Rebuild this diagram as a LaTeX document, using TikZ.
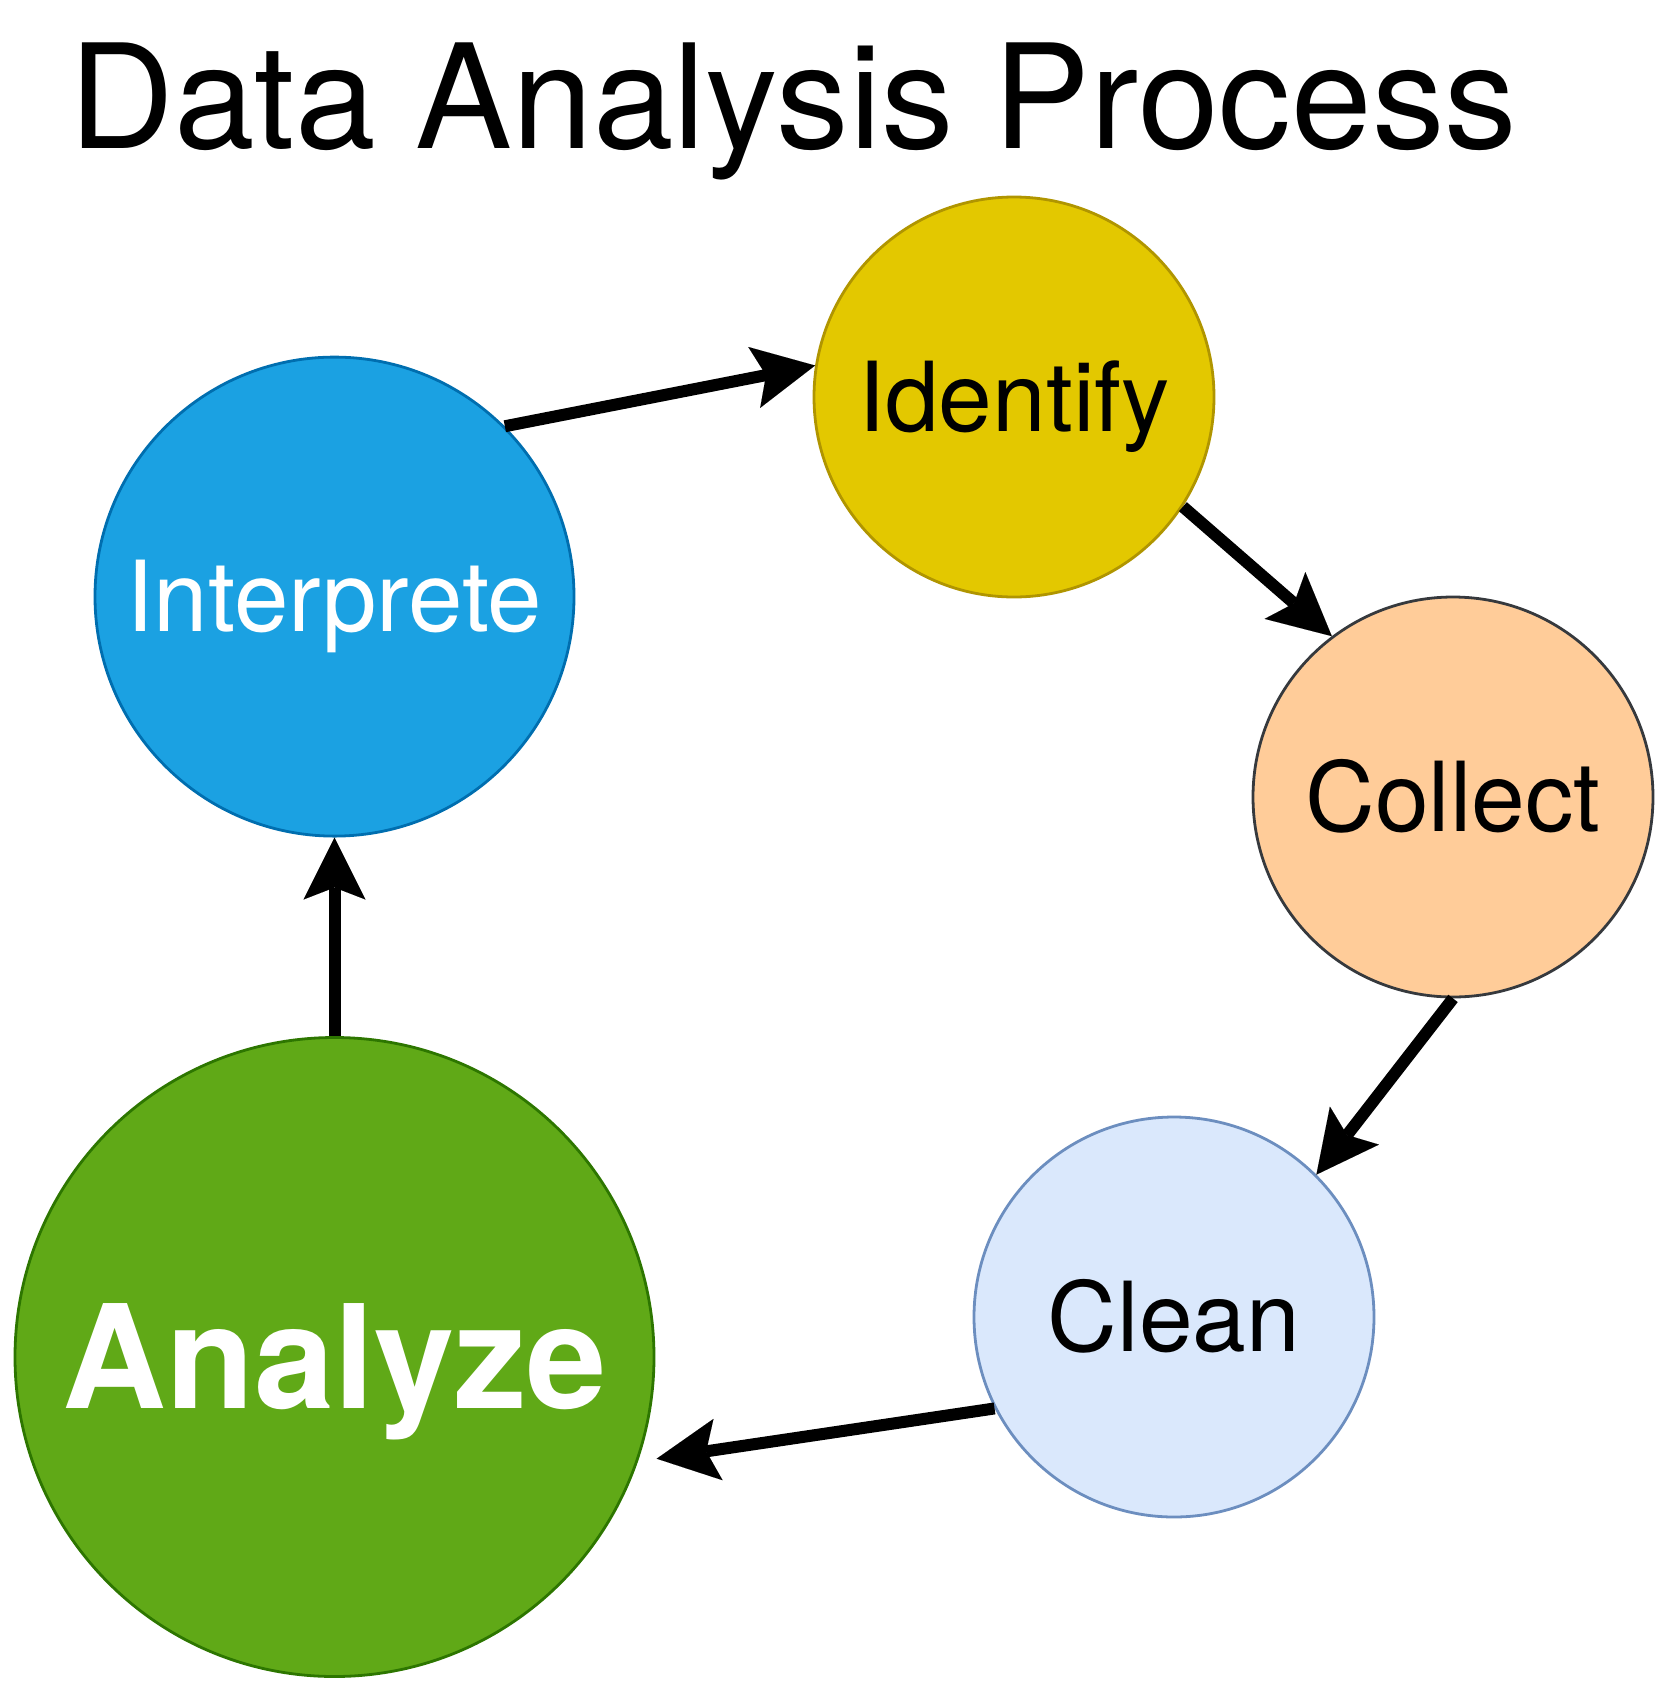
\documentclass[tikz,border=0pt]{standalone}
\usepackage{fontspec}
\setmainfont{TeX Gyre Heros}
\usetikzlibrary{arrows.meta}
\definecolor{idfill}{HTML}{E3C800}\definecolor{iddraw}{HTML}{B09500}
\definecolor{infill}{HTML}{1BA1E2}\definecolor{indraw}{HTML}{006EAF}
\definecolor{cofill}{HTML}{FFCC99}\definecolor{codraw}{HTML}{36393D}
\definecolor{clfill}{HTML}{DAE8FC}\definecolor{cldraw}{HTML}{6C8EBF}
\definecolor{anfill}{HTML}{60A917}\definecolor{andraw}{HTML}{2D7600}
\begin{document}
\begin{tikzpicture}[x=0.5pt,y=-0.5pt,
  stage/.style={circle,line width=1.4pt,inner sep=0pt,text depth=0pt,
    font=\fontsize{48.3pt}{58pt}\selectfont,text height=34.5pt},
  flow/.style={line width=6pt,-{Stealth[length=31pt,width=31pt,inset=6pt,line width=0.01pt]}}]
\useasboundingbox (0,0) rectangle (1668,1692);
\node[anchor=base west,inner sep=0pt,font=\fontsize{72.5pt}{87pt}\selectfont] (title) at (69,148) {Data Analysis Process};
\node[stage,fill=idfill,draw=iddraw,minimum size=200pt] (identify) at (1014,397) {Identify};
\node[stage,fill=infill,draw=indraw,minimum size=239.5pt,text=white,font=\fontsize{49pt}{59pt}\selectfont] (interprete) at (334.5,596.6) {Interprete};
\node[stage,fill=cofill,draw=codraw,minimum size=200pt] (collect) at (1453,797) {Collect};
\node[stage,fill=clfill,draw=cldraw,minimum size=200pt] (clean) at (1174,1317) {Clean};
\node[stage,fill=anfill,draw=andraw,minimum size=319.5pt,text=white,
  font=\fontsize{72pt}{86pt}\selectfont\bfseries,text height=51.5pt] (analyze) at (334.5,1357) {Analyze};
\draw[flow] (interprete.45) -- (identify.171);
\draw[flow] (identify.-33) -- (collect.127);
\draw[flow] (collect.-90) -- (clean.45);
\draw[flow,shorten >=9.5pt] (clean.207) -- (analyze.-19);
\draw[flow] (analyze.north) -- (interprete.south);
\end{tikzpicture}
\end{document}
